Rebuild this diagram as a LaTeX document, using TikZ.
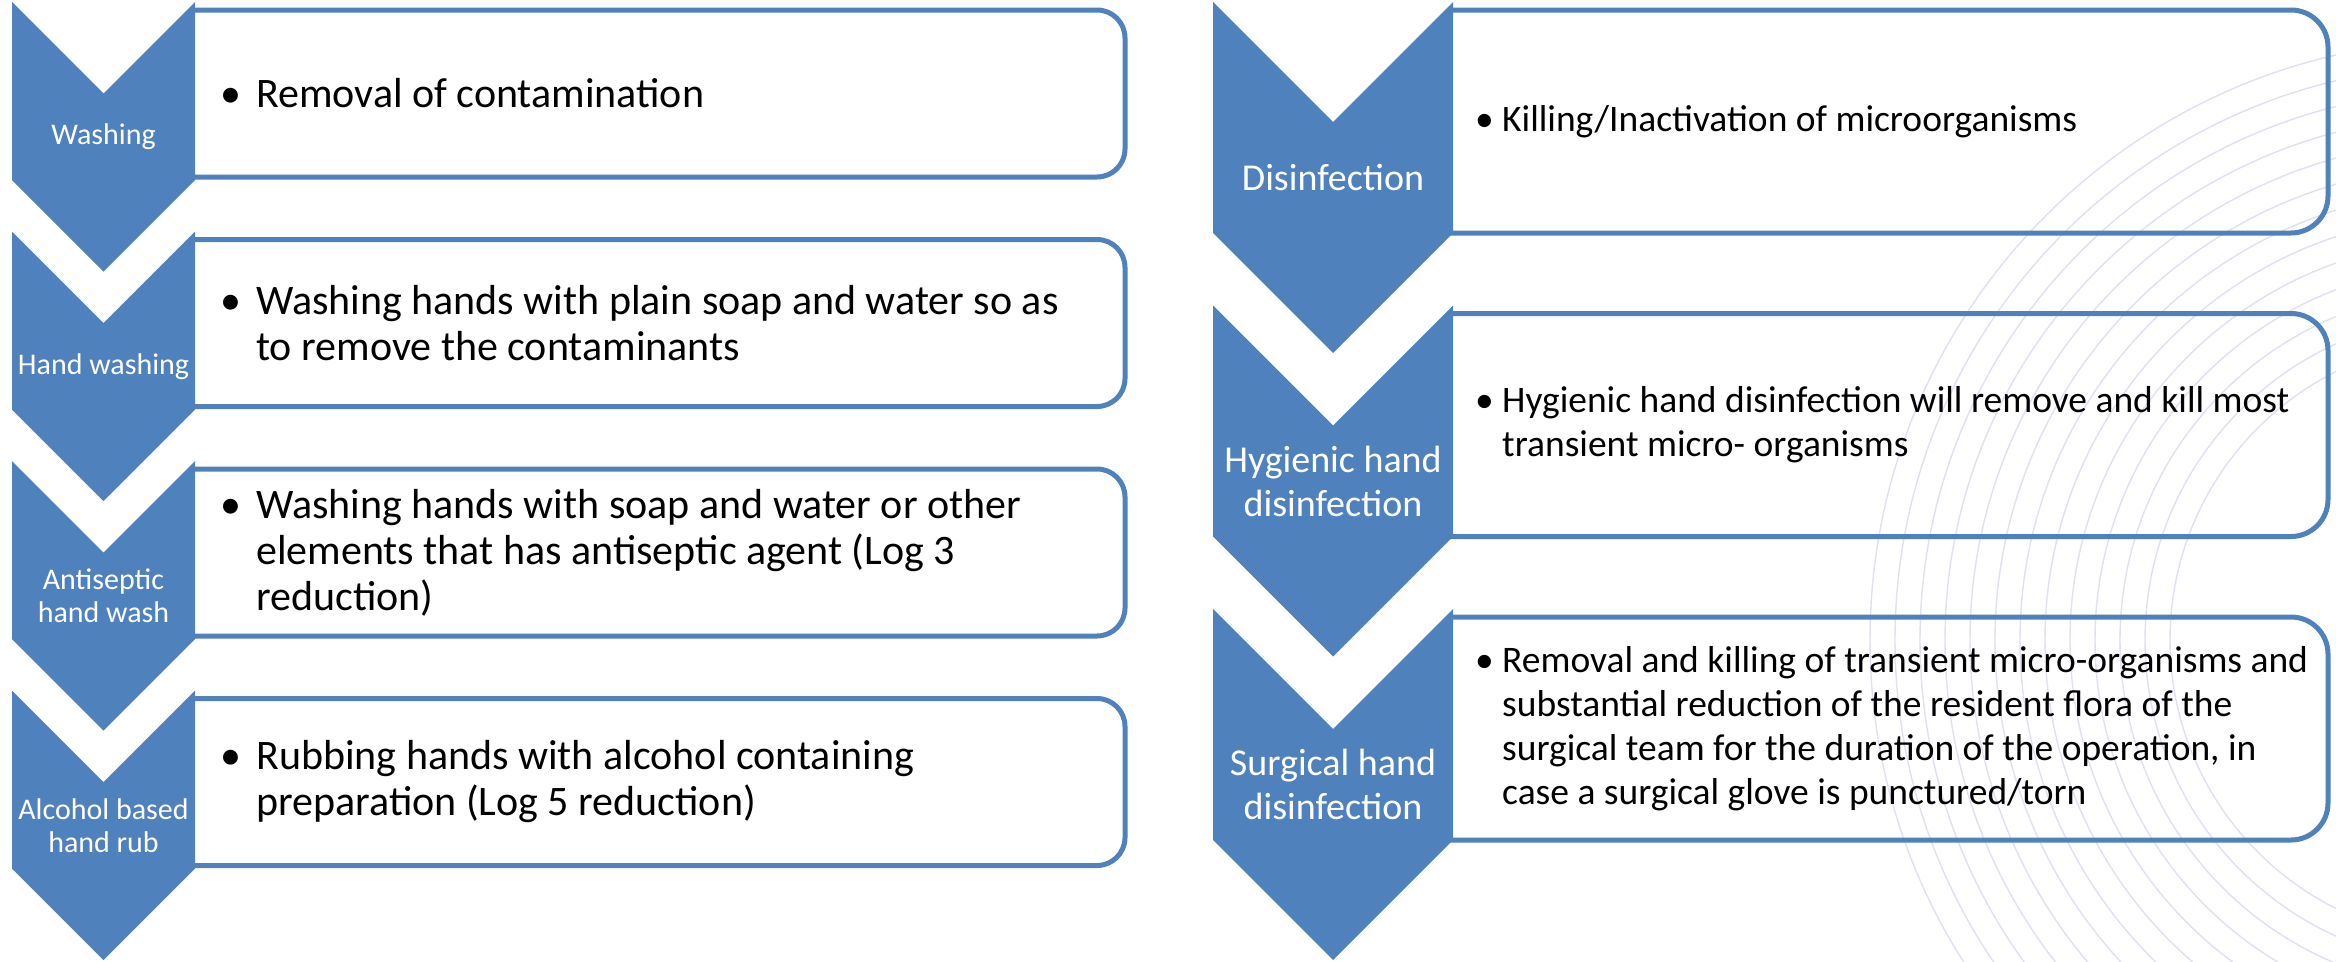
\documentclass[tikz,border=0pt]{standalone}
\usepackage{fontspec}
\setmainfont{Carlito}
\definecolor{accent}{RGB}{79,129,189}
\definecolor{wisp}{RGB}{224,224,242}
\begin{document}
\begin{tikzpicture}[x=1pt,y=-1pt,
  chev/.style={fill=accent,draw=none},
  itembox/.style={draw=accent,line width=5pt},
  lbl/.style={text=white,align=center,inner sep=0pt},
  lblS/.style={lbl,font=\fontsize{30}{33}\selectfont},
  lblL/.style={lbl,font=\fontsize{38}{44}\selectfont},
  txtS/.style={anchor=west,inner sep=0pt,font=\fontsize{42}{46}\selectfont},
  txtL/.style={anchor=west,inner sep=0pt,font=\fontsize{37.5}{44}\selectfont}]
\fill[white] (0,0) rectangle (2336,961);
\useasboundingbox (0,0) rectangle (2336,961);
% background wisps
\begin{scope}
  \clip (1864,0) rectangle (2336,961);
  \foreach \r in {300,325,...,600}
    \draw[wisp,line width=1.4pt] (2470,640) circle[radius=\r];
\end{scope}
% ---------- left column boxes ----------
\draw[itembox,rounded corners=28pt] (190,10) -- (1125,10) -- (1125,177) -- (190,177);
\draw[itembox,rounded corners=28pt] (190,239.5) -- (1125,239.5) -- (1125,406.5) -- (190,406.5);
\draw[itembox,rounded corners=28pt] (190,469) -- (1125,469) -- (1125,636) -- (190,636);
\draw[itembox,rounded corners=28pt] (190,698.5) -- (1125,698.5) -- (1125,865.5) -- (190,865.5);
% ---------- right column boxes ----------
\draw[itembox,rounded corners=37pt] (1448,10) -- (2328,10) -- (2328,233) -- (1448,233);
\draw[itembox,rounded corners=37pt] (1448,313.5) -- (2328,313.5) -- (2328,536.5) -- (1448,536.5);
\draw[itembox,rounded corners=37pt] (1448,617) -- (2328,617) -- (2328,840) -- (1448,840);
% ---------- left chevrons ----------
\fill[chev] (12,2) -- (103.5,93.5) -- (195,2) -- (195,180) -- (103.5,271.5) -- (12,180) -- cycle;
\fill[chev] (12,231.5) -- (103.5,323) -- (195,231.5) -- (195,409.5) -- (103.5,501) -- (12,409.5) -- cycle;
\fill[chev] (12,461) -- (103.5,552.5) -- (195,461) -- (195,639) -- (103.5,730.5) -- (12,639) -- cycle;
\fill[chev] (12,690.5) -- (103.5,782) -- (195,690.5) -- (195,868.5) -- (103.5,960) -- (12,868.5) -- cycle;
% ---------- right chevrons ----------
\fill[chev] (1213,2) -- (1333,122) -- (1453,2) -- (1453,233) -- (1333,353) -- (1213,233) -- cycle;
\fill[chev] (1213,305.5) -- (1333,425.5) -- (1453,305.5) -- (1453,536.5) -- (1333,656.5) -- (1213,536.5) -- cycle;
\fill[chev] (1213,609) -- (1333,729) -- (1453,609) -- (1453,840) -- (1333,960) -- (1213,840) -- cycle;
% ---------- left labels ----------
\node[lblS] (l1) at (103.5,136.75) {Washing};
\node[lblS] (l2) at (103.5,366.25) {Hand washing};
\node[lblS] (l3) at (103.5,595.75) {Antiseptic\\hand wash};
\node[lblS] (l4) at (103.5,825.25) {Alcohol based\\hand rub};
% ---------- right labels ----------
\node[lblL] (r1) at (1333,177.5) {Disinfection};
\node[lblL] (r2) at (1333,481) {Hygienic hand\\disinfection};
\node[lblL] (r3) at (1333,784.5) {Surgical hand\\disinfection};
% ---------- left texts ----------
\node[txtS] (t1) at (220,93.5) {\makebox[36pt][l]{\textbullet}\parbox[t]{900pt}{\raggedright Removal of contamination}};
\node[txtS] (t2) at (220,323) {\makebox[36pt][l]{\textbullet}\parbox[t]{900pt}{\raggedright Washing hands with plain soap and water so as\\to remove the contaminants}};
\node[txtS] (t3) at (220,552.5) {\makebox[36pt][l]{\textbullet}\parbox[t]{900pt}{\raggedright Washing hands with soap and water or other\\elements that has antiseptic agent (Log 3\\reduction)}};
\node[txtS] (t4) at (220,782) {\makebox[36pt][l]{\textbullet}\parbox[t]{900pt}{\raggedright Rubbing hands with alcohol containing\\preparation (Log 5 reduction)}};
% ---------- right texts ----------
\node[txtL] (u1) at (1475,121.5) {\makebox[27pt][l]{\textbullet}\parbox[t]{900pt}{\raggedright Killing/Inactivation of microorganisms}};
\node[txtL] (u2) at (1475,425) {\makebox[27pt][l]{\textbullet}\parbox[t]{900pt}{\raggedright Hygienic hand disinfection will remove and kill most\\transient micro- organisms}};
\node[txtL] (u3) at (1475,728.5) {\makebox[27pt][l]{\textbullet}\parbox[t]{900pt}{\raggedright Removal and killing of transient micro-organisms and\\substantial reduction of the resident flora of the\\surgical team for the duration of the operation, in\\case a surgical glove is punctured/torn}};
\end{tikzpicture}
\end{document}
